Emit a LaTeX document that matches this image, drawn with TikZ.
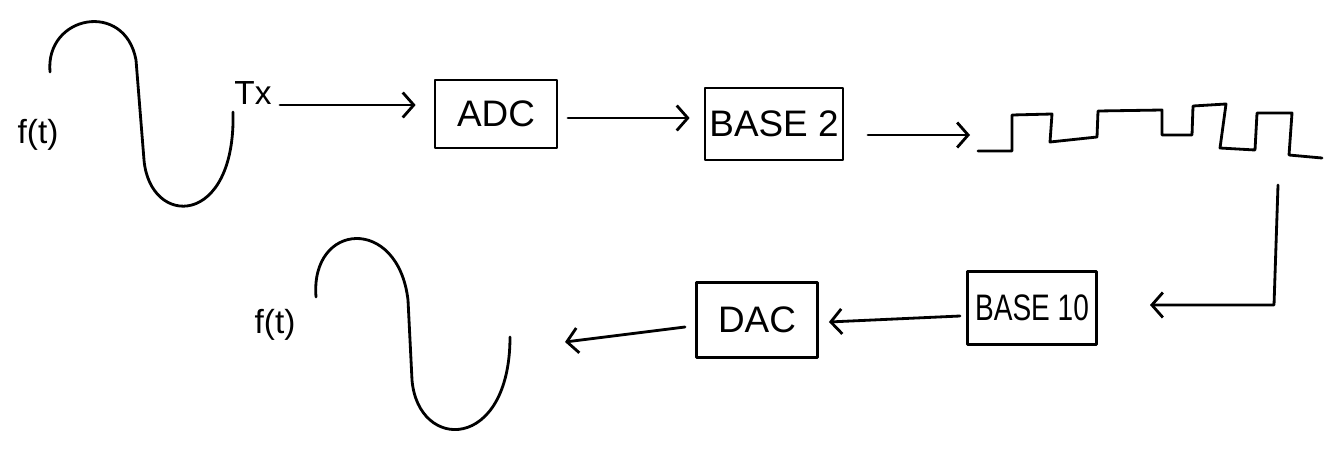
\documentclass[tikz,border=0pt]{standalone}
\usepackage{fontspec}
\usepackage{graphicx}
\setmainfont{Liberation Sans}
\usetikzlibrary{arrows.meta,calc}
\begin{document}
\begin{tikzpicture}[x=0.02cm,y=-0.02cm,
  pen/.style={line width=1.6pt,line cap=round,line join=round},
  blk/.style={pen,draw,inner sep=0pt,font=\fontsize{21}{24}\selectfont},
  lbl/.style={font=\fontsize{19}{22}\selectfont,inner sep=0pt},
  arr/.style={pen,-{Straight Barb[length=0.22cm,width=0.5cm,line width=1.6pt]}}]
\useasboundingbox (0,0) rectangle (1334,450);
% first sine
\draw[pen] (50,72) .. controls (45,15) and (125,0) .. (136,60) -- (144,160)
  .. controls (150,228) and (236,228) .. (233,112);
\node[lbl] (f1) at (38,135) {f(t)};
\node[lbl] (tx) at (253,93) {Tx};
% boxes
\node[blk,minimum width=2.44cm,minimum height=1.36cm] (adc) at (496,114) {ADC};
\node[blk,minimum width=2.76cm,minimum height=1.44cm] (b2) at (774,124) {BASE 2};
\node[blk,minimum width=2.58cm,minimum height=1.46cm] (b10) at (1032,308) {\scalebox{0.76}[1]{BASE 10}};
\node[blk,minimum width=2.42cm,minimum height=1.5cm] (dac) at (757,320) {DAC};
% square wave
\draw[pen] (978,151) -- (1012,151) -- (1012,115) -- (1052,114) -- (1050,142) -- (1097,137)
  -- (1098,111) -- (1162,110) -- (1162,135) -- (1192,135) -- (1193,106) -- (1226,104)
  -- (1220,148) -- (1255,150) -- (1257,113) -- (1292,113) -- (1289,155) -- (1322,158);
\coordinate (sq) at (970,135);
\coordinate (down) at (1278,185);
\coordinate (corner) at (1274,305);
\coordinate (in10) at (1150,305);
\coordinate (out) at (565,342);
% second sine
\draw[pen] (316,297) .. controls (310,222) and (398,215) .. (408,300) -- (412,380)
  .. controls (418,452) and (510,452) .. (510,337);
\node[lbl] (f2) at (275,325) {f(t)};
% connectors
\coordinate (a1) at (280,105);
\coordinate (a2) at (568,118);
\coordinate (a3) at (868,135);
\coordinate (a5) at (960,316);
\coordinate (a6) at (685,327);
\draw[arr] (a1) -- ($(a1 -| adc.west)+(-18,0)$);
\draw[arr] (a2) -- ($(a2 -| b2.west)+(-14,0)$);
\draw[arr] (a3) -- (sq);
\draw[arr] (down) -- (corner) -- (in10);
\draw[arr] (a5) -- ($(dac.east)+(10,2)$);
\draw[arr] (a6) -- (out);
\end{tikzpicture}
\end{document}
